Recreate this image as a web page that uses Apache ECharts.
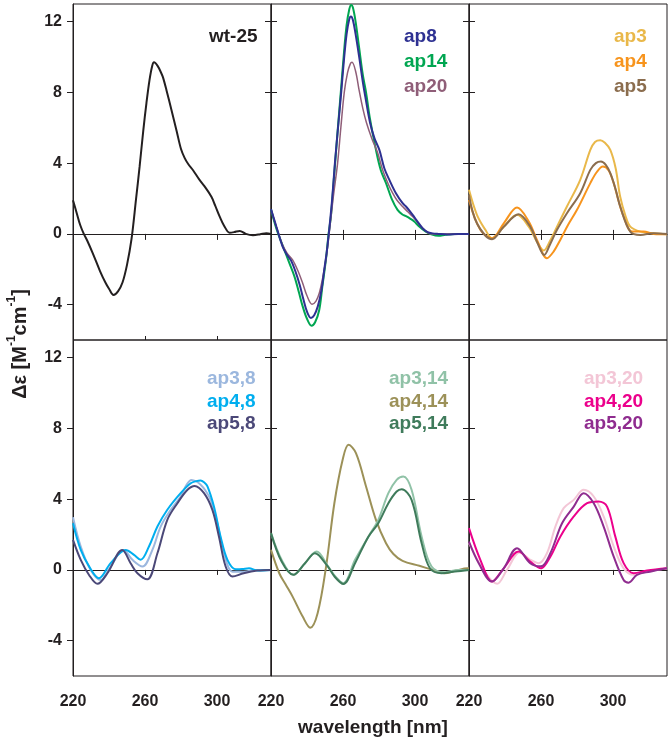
<!DOCTYPE html>
<html><head><meta charset="utf-8">
<script src="https://cdn.jsdelivr.net/npm/echarts@6/dist/echarts.min.js"></script>
<style>html,body{margin:0;padding:0;background:#fff}#c{width:672px;height:744px}</style>
</head><body><div id="c"></div>
<script>
// ---- tick labels ----
const xTicks = [220, 260, 300];
const yTicks = [-4, 0, 4, 8, 12];
const xRange = [220, 330];
const yRange = [-6, 13];

// ---- panel 1 ----
const wt25_x = [220,222,224,226,228,231,235,238,240,242.5,245,247.5,250,252.5,255,257,259,260.8,262.5,264,265,267,269,270,272,274.7,277.5,280,282,284,286.7,290,293,296.9,299,301.5,304,307,309.5,312.6,316,320,324,327.4,330];
const wt25_y = [1.9,1.2,0.5,0.0,-0.4,-1.1,-2.1,-2.75,-3.1,-3.45,-3.25,-2.75,-1.75,-0.3,1.95,3.8,5.8,7.4,8.7,9.5,9.7,9.5,9.1,8.85,8.1,7.0,5.85,4.8,4.3,3.95,3.6,3.1,2.7,2.1,1.6,0.98,0.45,0.07,0.1,0.17,0.0,-0.07,-0.02,0.04,0.0];

// ---- panel 2 ----
const ap8_x = [220,223,226.4,229,231.1,233.5,236,238,240,242.2,244,246,248,249.6,251,252.4,254,255.5,257.5,259,260.5,262,263.5,264.4,265.5,267,269,271,272.5,275,277.5,280.2,283,286,289.4,293,295,298.7,301,304.2,307,309.8,313,318,324,330];
const ap8_y = [1.4,0.4,-0.7,-1.2,-1.5,-2.1,-2.9,-3.7,-4.4,-4.75,-4.6,-4.1,-3.2,-2.0,-1.0,0.3,2.0,4.0,6.3,8.0,9.8,11.3,12.15,12.3,12.1,11.3,10.0,8.6,7.7,6.3,5.4,4.75,3.7,3.0,2.3,1.75,1.55,1.08,0.75,0.32,0.1,0.03,0,-0.03,0,0];
const ap14_x = [220,223,227.4,230,233,235.5,237.6,240,242.5,244.5,246.8,248.5,250.5,252,253.3,255,257,259,260.5,262,263.5,264.5,265.5,267,269,271,272.8,275,278.3,281,283.9,287,290.3,293,295,297.5,299.6,302,306,309,313,317,322,330];
const ap14_y = [1.4,0.3,-0.9,-1.6,-2.4,-3.3,-4.1,-4.8,-5.19,-5.0,-4.3,-3.0,-1.47,0.0,1.0,3.2,5.8,8.3,10.2,11.8,12.7,12.95,12.8,12.0,10.5,9.0,8.0,6.5,4.75,3.6,2.87,2.0,1.36,1.1,1.0,0.85,0.7,0.45,0.13,-0.02,-0.11,-0.05,0,0];
const ap20_x = [220,223,226.4,229,232,235,237.6,240,242.8,245,246.8,248.5,250.5,252.5,254.5,257,258.8,260.7,262.5,264,265,267,269,271,273,276,279.2,282,285,287.6,290,293.1,296,298.7,301,304.2,307,309.8,315,322,330];
const ap20_y = [1.4,0.4,-0.62,-1.1,-1.47,-2.1,-2.79,-3.5,-3.98,-3.8,-3.36,-2.6,-1.47,0.2,2.0,4.0,6.0,8.0,9.1,9.6,9.7,9.2,8.1,7.1,6.3,5.4,4.6,3.62,2.85,2.3,1.9,1.55,1.25,0.98,0.7,0.32,0.08,0,0,0,0];

// ---- panel 3 ----
const ap3_x = [220,224.4,229.1,232.8,239.3,246.7,253.2,257.5,261.5,265,268.9,274.4,281.8,287.4,290,292.9,295.5,298.5,301.5,304,307,309.6,315.2,322.6,330];
const ap3_y = [2.49,1.08,0.23,-0.24,0.41,1.08,0.41,-0.4,-0.94,-0.4,0.41,1.55,3.06,4.75,5.2,5.3,5.15,4.75,3.7,2.1,1.0,0.41,0.13,0.04,-0.02];
const ap4_x = [220,226.3,232.8,239.3,246.7,253.2,258,263.3,267,270.7,275,280,287.4,291,294.4,297.5,300.4,303,305.9,310.6,317,322.6,330];
const ap4_y = [1.92,0.23,-0.24,0.6,1.49,0.7,-0.4,-1.38,-1.0,-0.34,0.5,1.36,2.87,3.5,3.81,3.6,2.87,1.9,0.98,0.13,0.13,0,-0.02];
const ap5_x = [220,224.4,232.8,239.3,247.6,254,258,261.8,265,268.9,274.4,281.8,287.4,290.5,293.3,296,298.5,301.5,304,309.6,315.2,322.6,330];
const ap5_y = [2.2,0.6,-0.3,0.4,1.11,0.41,-0.5,-1.19,-0.6,0.23,1.17,2.3,3.62,4.0,4.09,3.9,3.43,2.5,1.55,0.13,-0.06,0.04,0];

// ---- panel 4 ----
const ap38_x = [220,224.3,229.8,235.4,240.9,248,253,258.6,264.1,268.7,274.3,279.8,283,285.8,288.5,290.9,293.5,296.5,300.2,303.9,308.6,314.8,322.4,330];
const ap38_y = [2.98,1.32,0,-0.57,0.19,1.13,0.57,0.19,1.13,2.45,3.4,4.15,4.8,5.09,5.0,4.81,4.5,3.96,2.64,0.94,-0.1,-0.1,0,0];
const ap48_x = [220,224.3,229.5,234.4,240.9,249.3,253.9,257.6,262.2,266.9,272.4,279.8,285.4,288.5,290.9,292.8,294.7,298.3,302,305.8,310.4,314,317.8,322.4,330];
const ap48_y = [2.64,1.13,0.1,-0.47,0.38,1.13,0.85,0.57,1.32,2.45,3.4,4.34,4.9,5.02,5.05,4.95,4.72,3.58,1.88,0.57,0.04,0.05,0.09,-0.03,0];
const ap58_x = [220,224.3,229,233.6,239.1,247.4,252,255.8,261.3,266.9,272.4,278,283.6,287.6,292.8,297.4,301.1,304.8,308.6,314.8,322.4,330];
const ap58_y = [1.7,0.57,-0.3,-0.79,-0.19,1.13,0.38,-0.19,-0.53,0.94,2.83,3.77,4.53,4.75,4.34,3.4,1.88,0.19,-0.38,-0.19,-0.04,0];

// ---- panel 5 ----
const ap314_x = [220,225.9,232.4,238.9,245.3,251.8,256,260.2,266.7,274.1,279.6,285.2,289.8,293.5,298.1,303.7,309.2,316.7,324.1,330];
const ap314_y = [2.08,0.57,-0.28,0.38,1.04,0.19,-0.4,-0.75,0.57,1.88,2.83,4.34,5.09,5.28,4.53,1.88,0.19,-0.13,0,0];
const ap414_x = [220,224.6,228,232,237.6,241.8,245.9,250.6,255.2,259.8,263.1,267.2,272.8,278.3,283.9,288,293.1,302.4,309.8,316.3,322.8,329.2,330];
const ap414_y = [1.13,-0.19,-0.8,-1.51,-2.64,-3.27,-2.45,0.19,3.77,6.23,7.07,6.6,4.72,2.83,1.51,0.9,0.51,0.23,0,-0.19,-0.04,0.09,0.09];
const ap514_x = [220,225.9,232.4,238.9,244.4,250.9,255.5,260.2,266.7,274.1,279.6,285.2,289.8,292.6,298.1,303.7,308.3,314.8,322.2,330];
const ap514_y = [2.08,0.47,-0.28,0.38,0.94,0.28,-0.4,-0.8,0.38,1.88,2.64,3.77,4.43,4.56,3.96,1.51,0.09,-0.19,-0.09,0];

// ---- panel 6 ----
const ap320_x = [220,228.1,235.6,241.1,248.2,254.1,258.7,263.3,268,272.6,278.2,283.7,289.3,294.8,300.4,305.9,311.5,318.9,330];
const ap320_y = [1.51,0,-0.79,0,0.98,0.57,0.38,0.94,2.45,3.49,3.96,4.53,4.15,3.02,1.32,0.09,-0.28,-0.09,0.09];
const ap420_x = [220,226.3,232.8,239.3,247.6,254,260,265.2,270.7,278.2,285.6,292,296.7,301.3,305.9,311.5,318.9,330];
const ap420_y = [2.36,0.57,-0.66,0.09,1.04,0.47,0.09,0.75,1.88,3.02,3.77,3.87,3.58,1.88,0.38,-0.19,-0.04,0.09];
const ap520_x = [220,225.4,232.8,239.3,246.7,254,260,265.2,271.7,278.2,283.7,289.3,294.8,300.4,305.9,308.7,313.3,320.5,330];
const ap520_y = [1.6,0.38,-0.66,0.09,1.23,0.38,0.2,0.94,2.64,3.58,4.34,3.77,2.45,0.75,-0.57,-0.72,-0.28,-0.1,0.09];

// ---- series names per panel ----
const panelNames = [
  ['wt-25'],
  ['ap8','ap14','ap20'],
  ['ap3','ap4','ap5'],
  ['ap3,8','ap4,8','ap5,8'],
  ['ap3,14','ap4,14','ap5,14'],
  ['ap3,20','ap4,20','ap5,20']
];
const seriesData = {
  'wt-25':[wt25_x,wt25_y],
  'ap8':[ap8_x,ap8_y],'ap14':[ap14_x,ap14_y],'ap20':[ap20_x,ap20_y],
  'ap3':[ap3_x,ap3_y],'ap4':[ap4_x,ap4_y],'ap5':[ap5_x,ap5_y],
  'ap3,8':[ap38_x,ap38_y],'ap4,8':[ap48_x,ap48_y],'ap5,8':[ap58_x,ap58_y],
  'ap3,14':[ap314_x,ap314_y],'ap4,14':[ap414_x,ap414_y],'ap5,14':[ap514_x,ap514_y],
  'ap3,20':[ap320_x,ap320_y],'ap4,20':[ap420_x,ap420_y],'ap5,20':[ap520_x,ap520_y]
};

// ---- styles ----
const colors = {
  'wt-25':'#231f20',
  'ap8':'#2e3192','ap14':'#00a651','ap20':'#8f5e78',
  'ap3':'#e9b84a','ap4':'#f7941d','ap5':'#8b6d4e',
  'ap3,8':'#9bb7de','ap4,8':'#00aeef','ap5,8':'#4b4878',
  'ap3,14':'#90c2a7','ap4,14':'#9c9158','ap5,14':'#3f7b5b',
  'ap3,20':'#f3c6d6','ap4,20':'#ec008c','ap5,20':'#8f2c8f'
};
const widths = {'ap20':1.5};
const drawOrder = [[0],[1,2,0],[0,1,2],[0,1,2],[1,0,2],[0,1,2]];
const FONT = '"Liberation Sans", Arial, sans-serif';
const AX = '#231f20';
const colLeft = [73, 271, 469];
const rowTop = [4, 340];
const gw = 198, gh = 336;
const labelPos = [
  {x:209, y:[37]},
  {x:404, y:[37,62,87]},
  {x:614, y:[37,62,87]},
  {x:207, y:[379,402,424]},
  {x:389, y:[379,402,424]},
  {x:584, y:[379,402,424]}
];

const grids = [], xAxes = [], yAxes = [], series = [], graphics = [];
for (let i = 0; i < 6; i++) {
  const r = Math.floor(i / 3), c = i % 3;
  grids.push({left: colLeft[c], top: rowTop[r], width: gw, height: gh, show: true,
    borderColor: AX, borderWidth: 1, backgroundColor: 'transparent'});
}
// main axes
for (let i = 0; i < 6; i++) {
  const r = Math.floor(i / 3), c = i % 3;
  xAxes.push({type:'value', gridIndex:i, position:'bottom', min:xRange[0], max:xRange[1],
    splitLine:{show:false}, axisLine:{show:true, lineStyle:{color:AX, width:1}},
    axisTick:{show:true, inside:false, length: r===0 ? 6 : 5, customValues:[260,300], lineStyle:{color:AX}},
    axisLabel:{show: r===1, customValues: xTicks, margin: 18, color:AX, fontSize:16, fontWeight:'bold', fontFamily:FONT}});
  yAxes.push({type:'value', gridIndex:i, position:'left', min:yRange[0], max:yRange[1],
    splitLine:{show:false}, axisLine:{show:true, lineStyle:{color:AX, width:1}},
    axisTick:{show:true, inside:false, length:6, customValues: yTicks, lineStyle:{color:AX}},
    axisLabel:{show: c===0, customValues: yTicks, margin: 11, color:AX, fontSize:16, fontWeight:'bold', fontFamily:FONT}});
}
// extra axes for crossing ticks
for (let i = 0; i < 6; i++) {
  const r = Math.floor(i / 3), c = i % 3;
  if (r === 0) {
    xAxes.push({type:'value', gridIndex:i, position:'bottom', min:xRange[0], max:xRange[1],
      splitLine:{show:false}, axisLine:{show:false},
      axisTick:{show:true, inside:true, length:4, customValues:[260,300], lineStyle:{color:AX}},
      axisLabel:{show:false}});
  }
  if (c > 0) {
    yAxes.push({type:'value', gridIndex:i, position:'left', min:yRange[0], max:yRange[1],
      splitLine:{show:false}, axisLine:{show:false},
      axisTick:{show:true, inside:true, length:6, customValues: yTicks, lineStyle:{color:AX}},
      axisLabel:{show:false}});
  }
}
// series
for (let i = 0; i < 6; i++) {
  const names = panelNames[i];
  drawOrder[i].forEach(k => {
    const n = names[k];
    const [xs, ys] = seriesData[n];
    series.push({type:'line', name:n, xAxisIndex:i, yAxisIndex:i,
      data: xs.map((v, j) => [v, ys[j]]), smooth:0.35, showSymbol:false, symbol:'none',
      lineStyle:{color:colors[n], width: widths[n] || 2}, clip:true, silent:true});
  });
  names.forEach((n, k) => {
    graphics.push({type:'text', x: labelPos[i].x, y: labelPos[i].y[k],
      style:{text:n, fill:colors[n], font:'bold 19px ' + FONT, textAlign:'left', textVerticalAlign:'middle', align:'left', verticalAlign:'middle'}});
  });
}
// axis titles
graphics.push({type:'text', x:373, y:728,
  style:{text:'wavelength [nm]', fill:AX, font:'bold 19px ' + FONT, textAlign:'center', textVerticalAlign:'middle', align:'center', verticalAlign:'middle'}});
graphics.push({type:'text', x:18, y:344, rotation: Math.PI/2,
  style:{text:'{a|Δε [M}{s|-1}{a|cm}{s|-1}{a|]}', fill:AX, textAlign:'center', textVerticalAlign:'middle', align:'center', verticalAlign:'middle',
    rich:{a:{fontSize:20, fontWeight:'bold', fontFamily:FONT, fill:AX, lineHeight:24, verticalAlign:'bottom'},
          s:{fontSize:12, fontWeight:'bold', fontFamily:FONT, fill:AX, lineHeight:24, verticalAlign:'top'}}}});

const chart = echarts.init(document.getElementById('c'), null, {renderer:'canvas'});
chart.setOption({animation:false, backgroundColor:'#fff', grid:grids, xAxis:xAxes, yAxis:yAxes, series:series, graphic:graphics});
</script></body></html>
